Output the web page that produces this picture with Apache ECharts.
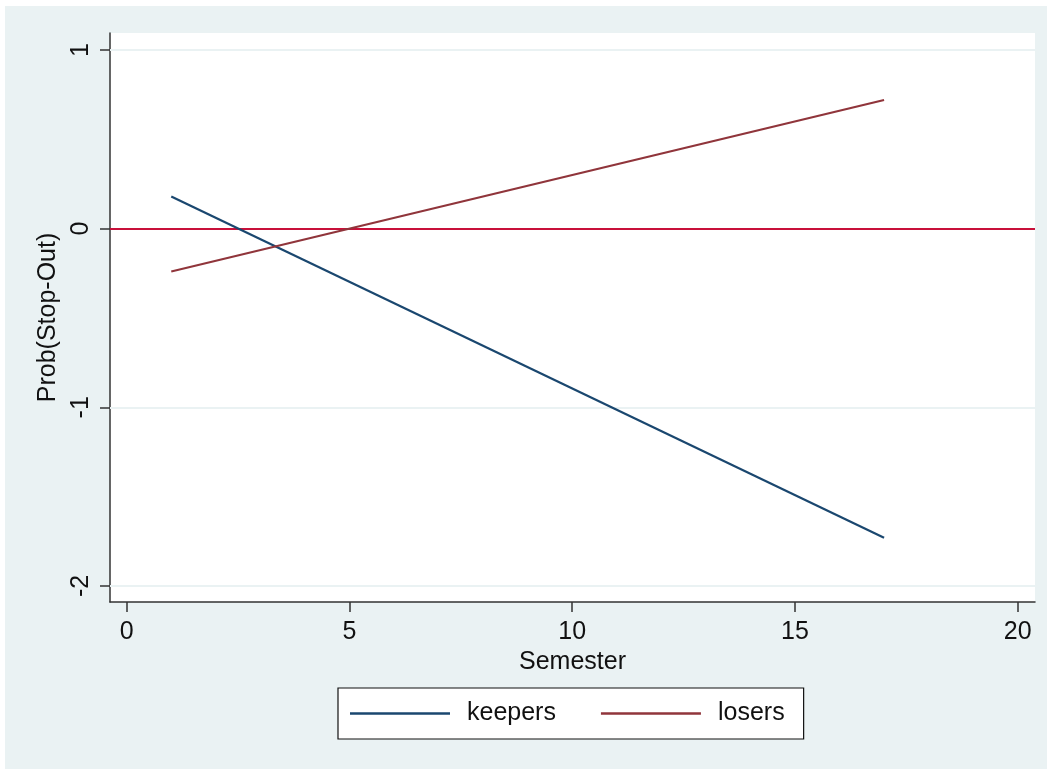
<!DOCTYPE html>
<html>
<head>
<meta charset="utf-8">
<script src="https://cdn.jsdelivr.net/npm/echarts@6/dist/echarts.min.js"></script>
<style>
html,body{margin:0;padding:0;background:#ffffff;}
#chart{position:absolute;left:5px;top:6px;width:1042px;height:763px;}
</style>
</head>
<body>
<div id="chart"></div>
<script>
// Data
const seriesNames = ['keepers', 'losers'];
const semesters = [1, 17];
const keepersValues = [0.18, -1.73];
const losersValues = [-0.24, 0.72];
const xTicks = [0, 5, 10, 15, 20];
const yTicks = [-2, -1, 0, 1];
const refLineValue = 0;

const font = '"Liberation Sans", Arial, Helvetica, sans-serif';
const chart = echarts.init(document.getElementById('chart'));

const pairs = (xs, ys) => xs.map((x, i) => [x, ys[i]]);

chart.setOption({
  backgroundColor: '#EAF2F3',
  animation: false,
  textStyle: { fontFamily: font },
  grid: {
    left: 105, right: 12, top: 27, bottom: 167,
    show: true, backgroundColor: '#ffffff', borderWidth: 0
  },
  legend: {
    data: seriesNames.map(n => ({ name: n, icon: 'rect' })),
    left: 333, top: 682,
    backgroundColor: '#ffffff',
    borderColor: '#111111', borderWidth: 1.2, borderRadius: 0,
    padding: [13, 19, 13, 12],
    itemWidth: 100, itemHeight: 2.5, itemGap: 45,
    textStyle: { fontSize: 25, color: '#111', fontFamily: font, padding: [0, 0, 0, 12] }
  },
  xAxis: {
    type: 'value',
    min: -0.375, max: 20.388,
    name: 'Semester', nameLocation: 'middle', nameGap: 48,
    nameTextStyle: { fontSize: 25, color: '#111', fontFamily: font },
    axisLine: { show: true, onZero: false, lineStyle: { color: '#333', width: 1.5 } },
    axisTick: { show: true, length: 10, customValues: xTicks, lineStyle: { color: '#333', width: 1.5 } },
    axisLabel: { customValues: xTicks, fontSize: 25, color: '#111', margin: 18, fontFamily: font },
    splitLine: { show: false }
  },
  yAxis: {
    type: 'value',
    min: -2.0895, max: 1.095,
    name: 'Prob(Stop-Out)', nameLocation: 'middle', nameGap: 46,
    nameTextStyle: { fontSize: 25, color: '#111', fontFamily: font },
    axisLine: { show: true, onZero: false, lineStyle: { color: '#333', width: 1.5 } },
    axisTick: { show: true, length: 10, customValues: yTicks, lineStyle: { color: '#333', width: 1.5 } },
    axisLabel: { customValues: yTicks, fontSize: 25, color: '#111', margin: 16, rotate: 90, fontFamily: font },
    splitLine: { show: false }
  },
  series: [
    {
      name: 'grid',
      type: 'line',
      data: [],
      z: 1,
      silent: true,
      markLine: {
        z: 1,
        silent: true, symbol: 'none', animation: false,
        label: { show: false },
        lineStyle: { color: '#EAF2F3', width: 2, type: 'solid' },
        data: yTicks.map(v => ({ yAxis: v }))
      }
    },
    {
      name: 'ref',
      type: 'line',
      data: [],
      z: 2,
      silent: true,
      markLine: {
        z: 2,
        silent: true, symbol: 'none', animation: false,
        label: { show: false },
        lineStyle: { color: '#C8103A', width: 2, type: 'solid' },
        data: [{ yAxis: refLineValue }]
      }
    },
    {
      name: seriesNames[0],
      type: 'line',
      data: pairs(semesters, keepersValues),
      symbol: 'none',
      z: 3,
      lineStyle: { color: '#1A476F', width: 2.2 },
      itemStyle: { color: '#1A476F' }
    },
    {
      name: seriesNames[1],
      type: 'line',
      data: pairs(semesters, losersValues),
      symbol: 'none',
      z: 3,
      lineStyle: { color: '#90353B', width: 2.2 },
      itemStyle: { color: '#90353B' }
    }
  ]
});
</script>
</body>
</html>
